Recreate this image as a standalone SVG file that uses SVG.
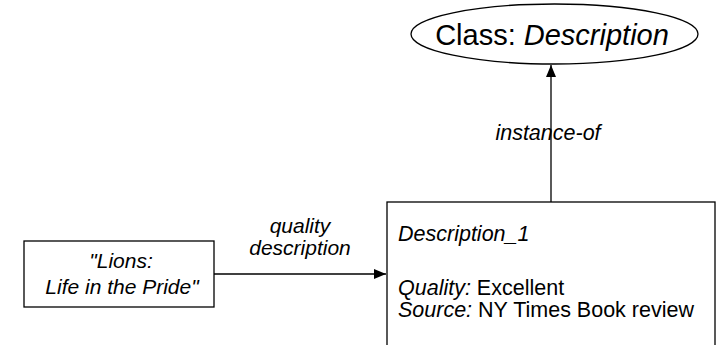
<svg xmlns="http://www.w3.org/2000/svg" width="724" height="345" viewBox="0 0 724 345">
<style>
text{font-family:"Liberation Sans",Arial,Helvetica,sans-serif;fill:#000}
.i{font-style:italic}
.shape{fill:#fff;stroke:#000;stroke-width:1.3}
.edge{stroke:#000;stroke-width:1.3;fill:none}
</style>
<defs>
<marker id="ah" markerWidth="12" markerHeight="10" refX="12" refY="5" orient="auto" markerUnits="userSpaceOnUse">
<path d="M0,0 L12,5 L0,10 Z" fill="#000"/>
</marker>
</defs>
<rect width="724" height="345" fill="#fff"/>
<g id="connectors">
<line class="edge" x1="214" y1="274" x2="386" y2="274" marker-end="url(#ah)"/>
<line class="edge" x1="551" y1="202" x2="551" y2="65" marker-end="url(#ah)"/>
<text class="i" x="300" y="233" font-size="21" text-anchor="middle">quality</text>
<text class="i" x="300" y="255" font-size="21" text-anchor="middle">description</text>
<text class="i" x="548" y="140" font-size="21.5" text-anchor="middle">instance-of</text>
</g>
<g id="class-description">
<ellipse class="shape" cx="554.5" cy="34" rx="143.5" ry="30"/>
<text x="552" y="45" font-size="29" text-anchor="middle">Class: <tspan class="i">Description</tspan></text>
</g>
<g id="lions">
<rect class="shape" x="24" y="241" width="190" height="66"/>
<text class="i" x="121" y="268" font-size="21" text-anchor="middle">"Lions:</text>
<text class="i" x="122" y="294" font-size="21" text-anchor="middle">Life in the Pride"</text>
</g>
<g id="description-1">
<rect class="shape" x="387" y="202" width="328" height="160"/>
<text class="i" x="398" y="241" font-size="21.5">Description_1</text>
<text x="398" y="295" font-size="21.5"><tspan class="i">Quality:</tspan> Excellent</text>
<text x="398" y="317" font-size="21.5"><tspan class="i">Source:</tspan> NY Times Book review</text>
</g>
</svg>
